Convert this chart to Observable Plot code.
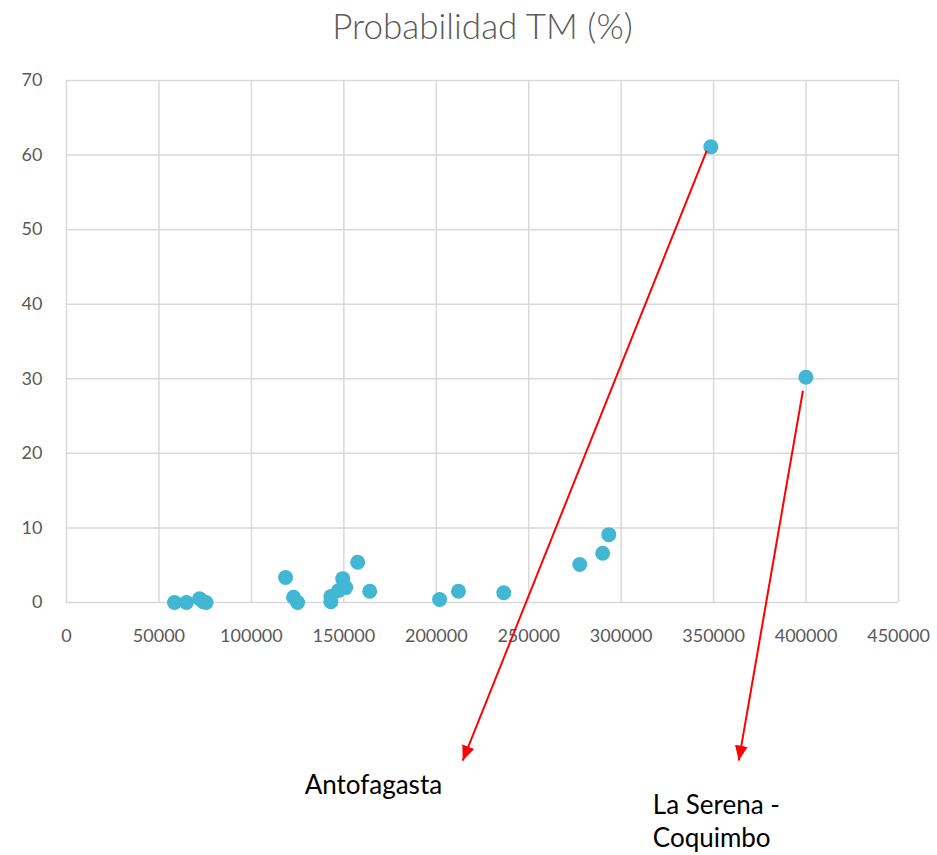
<!DOCTYPE html>
<html>
<head>
<meta charset="utf-8">
<script src="https://cdn.jsdelivr.net/npm/d3@7"></script>
<script src="https://cdn.jsdelivr.net/npm/@observablehq/plot@0.6"></script>
<style>
  html, body { margin: 0; padding: 0; background: #fff; }
  #title { height: 52px; width: 937px; box-sizing: border-box; padding-left: 28px; text-align: center;
    font-family: "Lato", sans-serif; font-weight: 300; font-size: 35px; color: #595959; line-height: 50px; }
</style>
</head>
<body>
<div id="title">Probabilidad TM (%)</div>
<div id="chart"></div>
<script>
// Data
const poblacion    = [58400, 64900, 72000, 74000, 75500, 118500, 122800, 125000, 143000, 143000, 147200, 149400, 151000, 157500, 164000, 201800, 212000, 236500, 277600, 290000, 293300, 348500, 399900];
const probabilidad = [0, 0, 0.5, 0.1, 0, 3.35, 0.7, 0, 0.1, 0.8, 1.6, 3.2, 2.0, 5.4, 1.5, 0.4, 1.5, 1.3, 5.1, 6.6, 9.1, 61.1, 30.2];
const xTicks = [0, 50000, 100000, 150000, 200000, 250000, 300000, 350000, 400000, 450000];
const yTicks = [0, 10, 20, 30, 40, 50, 60, 70];

const arrowFromX = [346300, 398300];
const arrowFromY = [60.6, 28.4];
const arrowToX   = [214300, 363600];
const arrowToY   = [-21.2, -21.2];
const labelNames = ["Antofagasta", "La Serena -\nCoquimbo"];
const labelX     = [128800, 317100];
const labelY     = [-24.3, -29.2];

const points = poblacion.map((x, i) => ({x, y: probabilidad[i]}));
const arrows = arrowFromX.map((x1, i) => ({x1, y1: arrowFromY[i], x2: arrowToX[i], y2: arrowToY[i]}));
const labels = labelNames.map((t, i) => ({t, x: labelX[i], y: labelY[i]}));

function triangleMarker(color, context) {
  const m = d3.create("svg:marker")
    .attr("viewBox", "-10 -5 10 10")
    .attr("markerUnits", "userSpaceOnUse")
    .attr("markerWidth", 15)
    .attr("markerHeight", 15)
    .attr("orient", "auto")
    .attr("fill", color)
    .attr("stroke", "none");
  m.append("path").attr("d", "M-10,-4.3L0,0L-10,4.3Z");
  return m.node();
}

const chart = Plot.plot({
  width: 937,
  height: 803,
  marginTop: 28,
  marginBottom: 253,
  marginLeft: 66,
  marginRight: 39,
  style: { fontFamily: "Lato, sans-serif", background: "#fff", overflow: "visible" },
  x: { domain: [0, 450000] },
  y: { domain: [0, 70] },
  marks: [
    Plot.gridX(xTicks, { stroke: "#d9d9d9", strokeOpacity: 1, strokeWidth: 1.5 }),
    Plot.gridY(yTicks, { stroke: "#d9d9d9", strokeOpacity: 1, strokeWidth: 1.5 }),
    Plot.axisX(xTicks, { tickSize: 0, tickPadding: 27, fontSize: 18, fill: "#595959", tickFormat: d => String(d), label: null, style: { letterSpacing: "0.8px" } }),
    Plot.axisY(yTicks, { tickSize: 0, tickPadding: 24, fontSize: 18, fill: "#595959", label: null, style: { letterSpacing: "0.8px" } }),
    Plot.dot(points, { x: "x", y: "y", r: 7.5, fill: "#41b7d4" }),
    Plot.link(arrows, { x1: "x1", y1: "y1", x2: "x2", y2: "y2", stroke: "#ff0000", strokeWidth: 2, markerEnd: triangleMarker }),
    Plot.text(labels, { x: "x", y: "y", text: "t", textAnchor: "start", fontSize: 26, fill: "#000", lineHeight: 1.27, fontFamily: "Lato, sans-serif", style: { letterSpacing: "0.4px" } })
  ]
});
document.getElementById("chart").appendChild(chart);
</script>
</body>
</html>
